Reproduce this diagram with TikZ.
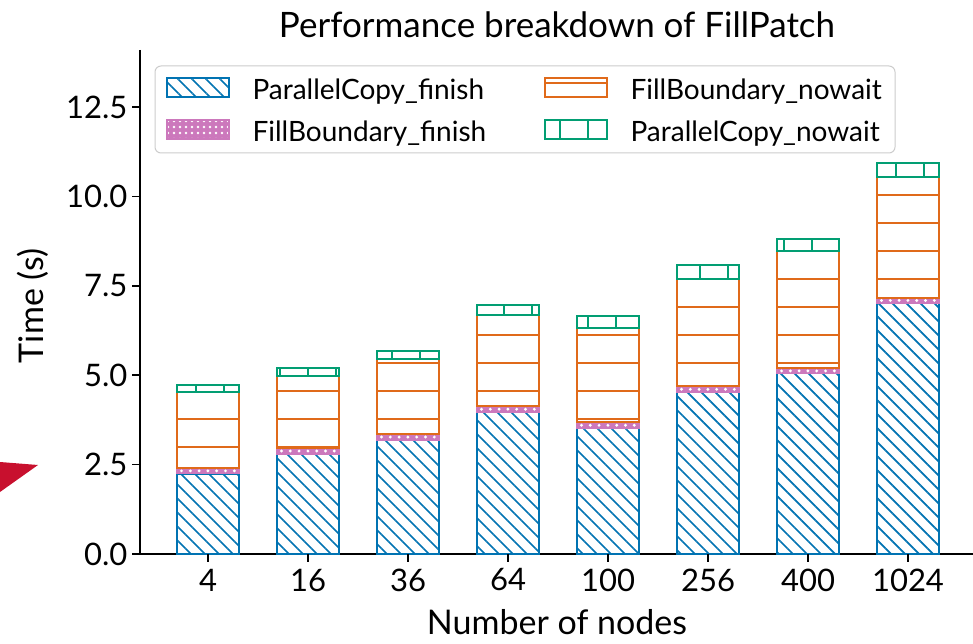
\documentclass[tikz,border=0pt]{standalone}
\usepackage{fontspec}
\setmainfont{Lato}
\usepackage{xcolor}
\usetikzlibrary{patterns.meta}

\definecolor{pcblue}{HTML}{0173B2}
\definecolor{fbpink}{HTML}{CC78BC}
\definecolor{fborange}{HTML}{E06A1A}
\definecolor{pcgreen}{HTML}{029E73}
\definecolor{slidered}{HTML}{C8102E}

\begin{document}
\begin{tikzpicture}[x=1pt,y=1pt,
    axisline/.style={black,line width=1.6pt},
    pcfinish/.style={draw=pcblue,line width=2pt,pattern={Lines[angle=-45,distance=9.9pt,line width=1.7pt]},pattern color=pcblue},
    fbfinish/.style={draw=fbpink,line width=2pt,preaction={fill=fbpink},pattern={Dots[distance=6pt,radius=1.4pt]},pattern color=white},
    fbband/.style={draw=fbpink,fill=fbpink,line width=1.6pt},
    fbnowait/.style={draw=fborange,line width=2pt,pattern={Lines[angle=0,distance=28pt,line width=1.7pt]},pattern color=fborange},
    pcnowait/.style={draw=pcgreen,line width=2pt,pattern={Lines[angle=90,distance=28pt,line width=1.7pt]},pattern color=pcgreen},
    ticklab/.style={font=\fontsize{31}{37}\selectfont},
    leglab/.style={anchor=west,font=\fontsize{28}{33}\selectfont},
    axlab/.style={font=\fontsize{34}{40}\selectfont}]
\useasboundingbox (0,0) rectangle (973,643);

% corner of the slide arrow
\fill[slidered] (0,181) -- (38,178) -- (0,151) -- cycle;

% axes
\draw[axisline] (140,593) -- (140,89) -- (973,89);
\foreach \v/\t in {0/0.0,1/2.5,2/5.0,3/7.5,4/10.0,5/12.5}{
  \draw[axisline] (132,89+89.4*\v) -- (140,89+89.4*\v);
  \node[ticklab,anchor=east] (yt\v) at (131,89+89.4*\v) {\t};
}

% stacked bars
\foreach \i/\n/\a/\b/\c/\d in {0/4/2.25/2.40/4.52/4.73, 1/16/2.80/2.96/4.99/5.21,
    2/36/3.19/3.35/5.45/5.69, 3/64/3.97/4.13/6.67/6.95, 4/100/3.51/3.69/6.32/6.65,
    5/256/4.52/4.69/7.69/8.08, 6/400/5.05/5.19/8.48/8.81, 7/1024/7.01/7.17/10.55/10.93}{
  \pgfmathsetmacro\xl{177+100*\i}
  \pgfmathsetmacro\xr{\xl+62}
  \pgfmathsetmacro\ya{89+35.76*\a}
  \pgfmathsetmacro\yb{89+35.76*\b}
  \pgfmathsetmacro\yc{89+35.76*\c}
  \pgfmathsetmacro\yd{89+35.76*\d}
  \draw[pcfinish] (\xl,89) rectangle (\xr,\ya);
  \draw[fbband] (\xl,\ya) rectangle (\xr,\yb);
  \foreach \k in {0,...,6}
    \fill[white] (\xl+4.5+8.8*\k,{(\ya+\yb)/2}) circle (1.6);
  \draw[fbnowait] (\xl,\yb) rectangle (\xr,\yc);
  \draw[pcnowait] (\xl,\yc) rectangle (\xr,\yd);
  \draw[axisline] (\xl+31,89) -- (\xl+31,81);
  \node[ticklab] (xt\i) at (\xl+31,63) {\n};
}

% legend
\draw[draw=black!20,line width=1pt,rounded corners=6pt,fill=white,fill opacity=0.8] (155,490) rectangle (895,577);
\draw[pcfinish] (167,546) rectangle (229,565);
\node[leglab] (lpcf) at (249,551) {ParallelCopy\_finish};
\draw[fbfinish] (167,504) rectangle (229,523);
\node[leglab] (lfbf) at (249,509) {FillBoundary\_finish};
\draw[fbnowait] (545,546) rectangle (607,565);
\node[leglab] (lfbn) at (627,551) {FillBoundary\_nowait};
\draw[pcnowait] (545,504) rectangle (607,523);
\node[leglab] (lpcn) at (627,509) {ParallelCopy\_nowait};

% labels
\node[font=\fontsize{35}{42}\selectfont] (title) at (557,618) {Performance breakdown of FillPatch};
\node[axlab,rotate=90] (ylab) at (33,337) {Time (s)};
\node[axlab,inner sep=1pt] (xlab) at (557,21) {Number of nodes};
\end{tikzpicture}
\end{document}
